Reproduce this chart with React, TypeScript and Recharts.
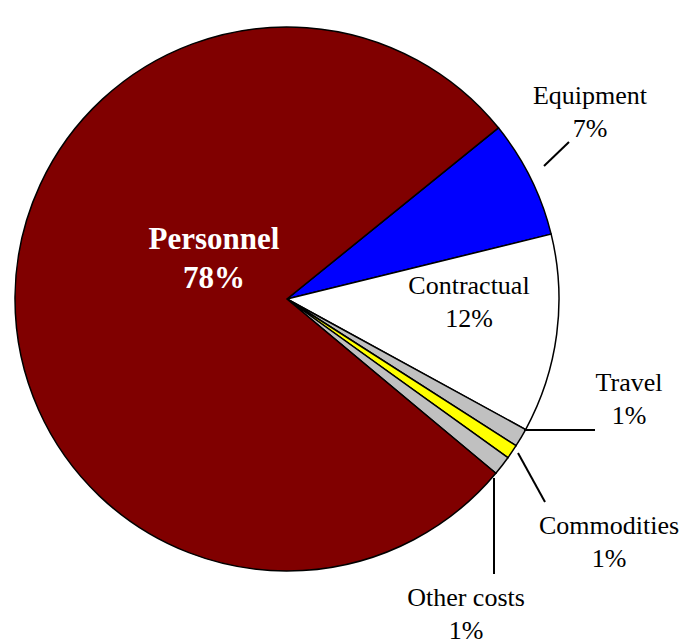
import { Pie, PieChart, Cell } from "recharts";

// budget shares, percent of total (clockwise from the top-right boundary)
const categories = ["Equipment", "Contractual", "Travel", "Commodities", "Other costs", "Personnel"];
const shares = [7.0, 11.8, 1.1, 0.85, 1.15, 78.1];
const colors = ["#0000ff", "#ffffff", "#c0c0c0", "#ffff00", "#c0c0c0", "#800000"];

const data = categories.map((name, i) => ({ name, value: shares[i] }));

const FONT = "'Liberation Serif', 'Times New Roman', serif";
const CX = 282;
const CY = 294;

// label anchor (center x, first baseline) and optional leader line, relative to pie center
const LABELS: Record<string, { x: number; y: number; line?: [number, number, number, number] }> = {
  Equipment: { x: 303, y: -195, line: [257, -133, 282, -157] },
  Contractual: { x: 182, y: -5 },
  Travel: { x: 342, y: 92, line: [237, 131, 308, 131] },
  Commodities: { x: 322, y: 235, line: [231, 154, 258, 203] },
  "Other costs": { x: 179, y: 307, line: [207, 179, 207, 275] },
  Personnel: { x: -73, y: -50 },
};

function renderLabel(props: any) {
  const { cx, cy, name, value } = props;
  const cfg = LABELS[name];
  if (!cfg) return null;
  const inner = name === "Personnel";
  const x = cx + cfg.x;
  const y = cy + cfg.y;
  return (
    <g>
      {cfg.line && (
        <line
          x1={cx + cfg.line[0]}
          y1={cy + cfg.line[1]}
          x2={cx + cfg.line[2]}
          y2={cy + cfg.line[3]}
          stroke="#000"
          strokeWidth={2}
        />
      )}
      <text
        x={x}
        y={y}
        textAnchor="middle"
        fontFamily={FONT}
        fontSize={inner ? 31 : 26}
        fontWeight={inner ? "bold" : "normal"}
        fill={inner ? "#ffffff" : "#000000"}
      >
        <tspan x={x}>{name}</tspan>
        <tspan x={x} dy={inner ? 39 : 33}>
          {Math.round(value)}%
        </tspan>
      </text>
    </g>
  );
}

export default function App() {
  return (
    <div style={{ position: "absolute", left: 0, top: 0, background: "#fff" }}>
      <PieChart width={697} height={641}>
        <Pie
          data={data}
          dataKey="value"
          nameKey="name"
          cx={CX}
          cy={CY}
          outerRadius={272}
          startAngle={39}
          endAngle={-321}
          stroke="#000"
          strokeWidth={1.5}
          label={renderLabel}
          labelLine={false}
          isAnimationActive={false}
        >
          {data.map((d, i) => (
            <Cell key={d.name} fill={colors[i]} />
          ))}
        </Pie>
      </PieChart>
    </div>
  );
}
